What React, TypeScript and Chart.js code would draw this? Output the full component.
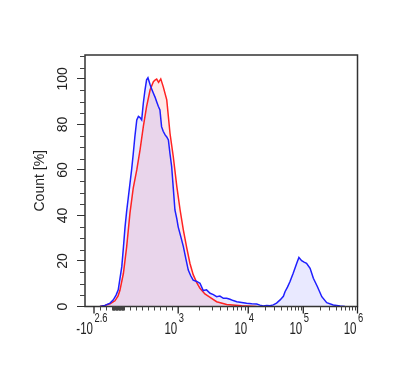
import React, { useEffect, useRef } from 'react';
import { Chart, registerables } from 'chart.js';

Chart.register(...registerables);

// Histogram data (channel units, 0..1000 display channels) and % of max count
const redChannels = [55, 73, 92, 110, 121, 128, 141, 153, 165, 177, 190, 202, 214, 226, 239, 251, 257, 263, 270, 278, 287, 300, 312, 324, 337, 349, 361, 373, 385, 397, 410, 422, 440, 459, 483, 520, 575, 630];
const redCounts = [0, 0.5, 1.2, 2.5, 4.5, 7, 14.6, 26.3, 41, 52, 60, 68.8, 79, 87.8, 95.2, 98.8, 99.5, 99.9, 98.5, 100, 96.6, 90.8, 76, 65.8, 52.7, 42.4, 33.6, 26, 19, 14, 10.5, 8, 5.5, 4, 2.1, 0.9, 0.3, 0];

const blueChannels = [55, 73, 92, 104, 114, 122, 128, 135, 141, 147, 153, 159, 165, 171, 177, 183, 190, 196, 202, 208, 214, 220, 226, 231, 239, 245, 251, 257, 263, 269, 275, 281, 287, 294, 300, 306, 312, 318, 324, 330, 337, 342, 352, 361, 370, 379, 388, 397, 410, 422, 434, 446, 459, 471, 483, 495, 508, 520, 532, 544, 557, 575, 593, 612, 630, 642, 654, 667, 679, 691, 703, 716, 728, 734, 743, 752, 764, 777, 785, 795, 804, 813, 826, 838, 853, 869, 887, 911, 936, 954];
const blueCounts = [0, 0.5, 1.5, 2.9, 5, 7.3, 12, 17.5, 26, 35, 42, 48, 54, 60, 67, 74.6, 82, 83.5, 83, 82, 89.3, 95, 99.6, 100.5, 97.4, 95.5, 93.7, 92, 90, 88, 86.4, 79, 77, 75.4, 74.5, 73.2, 67, 61.5, 52, 42.4, 38.5, 35, 30.5, 26.3, 21, 16, 13.5, 11.6, 11, 10.2, 7, 7.3, 5.8, 5.2, 4.3, 4.6, 3.6, 3.6, 3.2, 2.6, 2.1, 1.8, 1.4, 1.2, 1.1, 0.6, 0.2, 0.4, 0.3, 0.7, 1.5, 2.9, 4.5, 6.5, 8.5, 10.9, 14.6, 19, 21.5, 20.1, 19.5, 19, 16.8, 12.4, 8.7, 4.3, 1.7, 0.7, 0.2, 0];

// Axis ticks
const yTickValues = [0, 20, 40, 60, 80, 100];
const xTickValues = [-398, 1e3, 1e4, 1e5, 1e6];
const xTickBases = ['-10', '10', '10', '10', '10'];
const xTickExponents = ['2.6', '3', '4', '5', '6'];

// Display transform (biexponential-like): linear below 10^3, log decades above
const zeroChannel = 121;
const decadeChannels = [342, 599, 801, 1000]; // 10^3 .. 10^6

function toChannel(v: number): number {
  if (v <= 1000) {
    const slope = (decadeChannels[0] - zeroChannel) / 1000;
    return zeroChannel + slope * v;
  }
  const d = Math.log10(v);
  let i = Math.floor(d) - 3;
  if (i > 2) i = 2;
  if (i < 0) i = 0;
  return decadeChannels[i] + (decadeChannels[i + 1] - decadeChannels[i]) * (d - (i + 3));
}

function minorXValues(): number[] {
  const out: number[] = [];
  for (let v = -300; v <= 900; v += 100) if (v !== 0) out.push(v);
  for (let v = -90; v <= 90; v += 10) out.push(v);
  for (let e = 3; e < 6; e++) for (let k = 2; k <= 9; k++) out.push(k * Math.pow(10, e));
  return out;
}

const FONT = '"Liberation Sans", Arial, sans-serif';

const decorPlugin = {
  id: 'axisDecor',
  afterDraw(chart: any) {
    const { ctx, chartArea } = chart;
    const xs = chart.scales.x;
    const ys = chart.scales.y;
    const { left, right, top, bottom } = chartArea;
    ctx.save();
    // frame
    ctx.strokeStyle = '#333';
    ctx.lineWidth = 1.5;
    ctx.strokeRect(left, top, right - left, bottom - top);

    // y minor ticks
    ctx.lineWidth = 1;
    ctx.strokeStyle = '#444';
    for (let v = 5; v <= 110; v += 5) {
      if (v % 20 === 0) continue;
      const py = Math.round(ys.getPixelForValue(v)) + 0.5;
      ctx.beginPath();
      ctx.moveTo(left - 5, py);
      ctx.lineTo(left, py);
      ctx.stroke();
    }
    // x minor ticks
    minorXValues().forEach((v) => {
      const px = Math.round(xs.getPixelForValue(toChannel(v))) + 0.5;
      ctx.beginPath();
      ctx.moveTo(px, bottom);
      ctx.lineTo(px, bottom + 4);
      ctx.stroke();
    });
    // x major ticks
    ctx.strokeStyle = '#222';
    ctx.lineWidth = 1.3;
    xTickValues.forEach((v) => {
      const px = xs.getPixelForValue(toChannel(v));
      ctx.beginPath();
      ctx.moveTo(px, bottom);
      ctx.lineTo(px, bottom + 7);
      ctx.stroke();
    });

    // x labels with superscripts, condensed horizontally
    const sx = 0.72;
    ctx.fillStyle = '#222';
    ctx.textBaseline = 'alphabetic';
    ctx.textAlign = 'left';
    xTickValues.forEach((v, i) => {
      const px = xs.getPixelForValue(toChannel(v));
      ctx.font = '16px ' + FONT;
      const wb = ctx.measureText(xTickBases[i]).width * sx;
      ctx.save();
      ctx.translate(px - 1 - wb, bottom + 27.5);
      ctx.scale(sx, 1);
      ctx.fillText(xTickBases[i], 0, 0);
      ctx.restore();
      ctx.font = '13px ' + FONT;
      ctx.save();
      ctx.translate(px + 0.5, bottom + 15);
      ctx.scale(sx, 1);
      ctx.fillText(xTickExponents[i], 0, 0);
      ctx.restore();
    });
    ctx.restore();
  },
};

export default function App() {
  const canvasRef = useRef<HTMLCanvasElement | null>(null);

  useEffect(() => {
    if (!canvasRef.current) return;
    const redData = redChannels.map((c, i) => ({ x: c, y: redCounts[i] }));
    const blueData = blueChannels.map((c, i) => ({ x: c, y: blueCounts[i] }));
    const chart = new Chart(canvasRef.current, {
      type: 'line',
      data: {
        datasets: [
          {
            label: 'Blue',
            data: blueData,
            borderColor: '#1f1fff',
            backgroundColor: 'rgba(0,0,255,0.085)',
            borderWidth: 1.5,
            pointRadius: 0,
            fill: 'origin',
            tension: 0,
          },
          {
            label: 'Red',
            data: redData,
            borderColor: '#ff2222',
            backgroundColor: 'rgba(255,0,0,0.085)',
            borderWidth: 1.5,
            pointRadius: 0,
            fill: 'origin',
            tension: 0,
          },
        ],
      },
      options: {
        animation: false,
        responsive: true,
        maintainAspectRatio: false,
        layout: { padding: { top: 55, right: 42.5, left: 0, bottom: 0 } },
        plugins: {
          legend: { display: false },
          tooltip: { enabled: false },
          filler: { drawTime: 'beforeDatasetsDraw' },
        },
        scales: {
          x: {
            type: 'linear',
            min: 0,
            max: 1000,
            grid: { display: false },
            border: { display: false },
            ticks: { display: false },
            afterFit: (scale: any) => {
              scale.height = 62.5;
            },
          },
          y: {
            type: 'linear',
            min: 0,
            max: 110.5,
            afterBuildTicks: (scale: any) => {
              scale.ticks = yTickValues.map((v) => ({ value: v }));
            },
            afterFit: (scale: any) => {
              scale.width = 85;
            },
            grid: {
              drawOnChartArea: false,
              drawTicks: true,
              tickLength: 8,
              tickColor: '#333',
              tickWidth: 1,
            },
            border: { display: false },
            ticks: {
              minRotation: 90,
              maxRotation: 90,
              crossAlign: 'center',
              padding: 2.5,
              color: '#222',
              font: { family: FONT, size: 14 },
              callback: (v: any) => String(v),
            },
            title: {
              display: true,
              text: 'Count [%]',
              color: '#222',
              font: { family: FONT, size: 14 },
              padding: { top: 31.6, bottom: 0 },
            },
          },
        },
      },
      plugins: [decorPlugin],
    });
    return () => chart.destroy();
  }, []);

  return (
    <div style={{ position: 'fixed', left: 0, top: 0, width: 400, height: 369, background: '#fff' }}>
      <canvas ref={canvasRef} />
    </div>
  );
}
